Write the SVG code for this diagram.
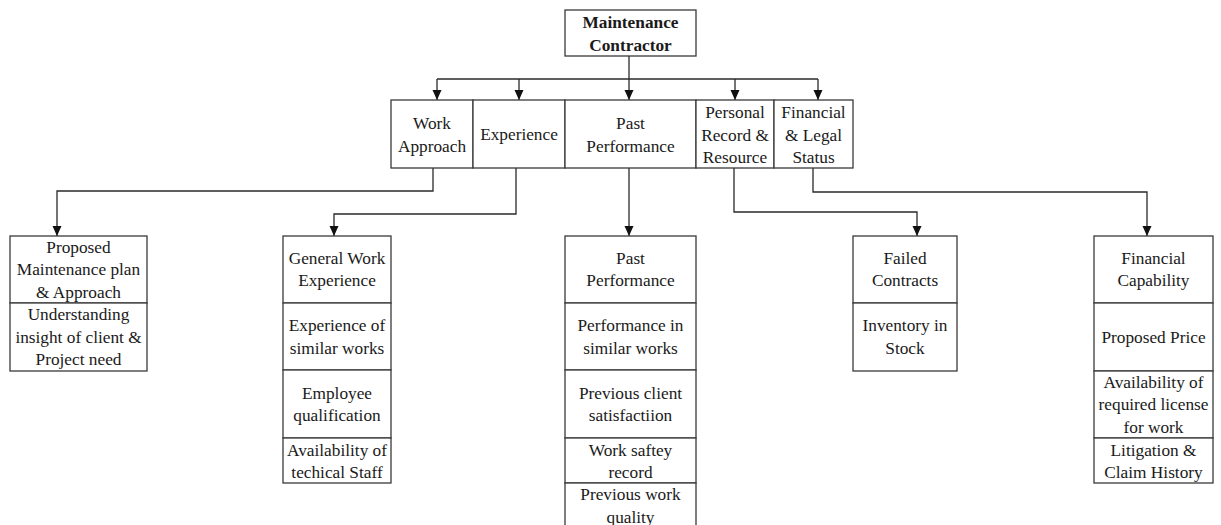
<svg xmlns="http://www.w3.org/2000/svg" width="1221" height="525" viewBox="0 0 1221 525">
<style>
rect{fill:#fff;stroke:#3a3a3a;stroke-width:1.3}
text{font-family:"Liberation Serif","Times New Roman",serif;font-size:17.3px;fill:#1a1a1a;text-anchor:middle}
.b{font-weight:bold}
.c{fill:none;stroke:#2a2a2a;stroke-width:1.3}
</style>
<defs>
<marker id="ah" markerUnits="userSpaceOnUse" markerWidth="10" markerHeight="10" refX="10" refY="4.5" orient="auto"><path d="M0,0 L10,4.5 L0,9 z" fill="#111"/></marker>
</defs>
<rect width="1221" height="525" style="fill:#fff;stroke:none"/>
<g id="connectors">
<path class="c" d="M629,56 V79"/>
<path class="c" d="M437,79 H818"/>
<path class="c" d="M437,79 V100" marker-end="url(#ah)"/>
<path class="c" d="M519,79 V100" marker-end="url(#ah)"/>
<path class="c" d="M629,79 V100" marker-end="url(#ah)"/>
<path class="c" d="M735,79 V100" marker-end="url(#ah)"/>
<path class="c" d="M818,79 V100" marker-end="url(#ah)"/>
<path class="c" d="M433,168 V191 H57 V236" marker-end="url(#ah)"/>
<path class="c" d="M516,168 V214 H334 V236" marker-end="url(#ah)"/>
<path class="c" d="M629,168 V236" marker-end="url(#ah)"/>
<path class="c" d="M734,168 V212 H917 V236" marker-end="url(#ah)"/>
<path class="c" d="M813,168 V192 H1147 V236" marker-end="url(#ah)"/>
</g>
<g id="root">
<rect x="565" y="10" width="131" height="46"/>
<text class="b" x="630.5" y="28">Maintenance</text>
<text class="b" x="630.5" y="51">Contractor</text>
</g>
<g id="work-approach">
<rect x="391" y="100" width="82" height="68"/>
<text x="432" y="129">Work</text>
<text x="432" y="152">Approach</text>
</g>
<g id="experience">
<rect x="473" y="100" width="92" height="68"/>
<text x="519" y="140">Experience</text>
</g>
<g id="past-performance">
<rect x="565" y="100" width="131" height="68"/>
<text x="630.5" y="129">Past</text>
<text x="630.5" y="152">Performance</text>
</g>
<g id="personal-record">
<rect x="696" y="100" width="78" height="68"/>
<text x="735" y="118">Personal</text>
<text x="735" y="141">Record &amp;</text>
<text x="735" y="163">Resource</text>
</g>
<g id="financial-legal">
<rect x="774" y="100" width="79" height="68"/>
<text x="813.5" y="118">Financial</text>
<text x="813.5" y="141">&amp; Legal</text>
<text x="813.5" y="163">Status</text>
</g>
<g id="work-approach-items">
<rect x="10" y="236" width="137" height="67"/>
<rect x="10" y="303" width="137" height="68"/>
<text x="78.5" y="253">Proposed</text>
<text x="78.5" y="275">Maintenance plan</text>
<text x="78.5" y="298">&amp; Approach</text>
<text x="78.5" y="320">Understanding</text>
<text x="78.5" y="343">insight of client &amp;</text>
<text x="78.5" y="365">Project need</text>
</g>
<g id="experience-items">
<rect x="283" y="236" width="108" height="67"/>
<rect x="283" y="303" width="108" height="67"/>
<rect x="283" y="370" width="108" height="68"/>
<rect x="283" y="438" width="108" height="45"/>
<text x="337" y="264">General Work</text>
<text x="337" y="286">Experience</text>
<text x="337" y="331">Experience of</text>
<text x="337" y="354">similar works</text>
<text x="337" y="399">Employee</text>
<text x="337" y="421">qualification</text>
<text x="337" y="456">Availability of</text>
<text x="337" y="478">techical Staff</text>
</g>
<g id="past-performance-items">
<rect x="565" y="236" width="131" height="67"/>
<rect x="565" y="303" width="131" height="67"/>
<rect x="565" y="370" width="131" height="68"/>
<rect x="565" y="438" width="131" height="45"/>
<rect x="565" y="483" width="131" height="50"/>
<text x="630.5" y="264">Past</text>
<text x="630.5" y="286">Performance</text>
<text x="630.5" y="331">Performance in</text>
<text x="630.5" y="354">similar works</text>
<text x="630.5" y="399">Previous client</text>
<text x="630.5" y="421">satisfactiion</text>
<text x="630.5" y="456">Work saftey</text>
<text x="630.5" y="478">record</text>
<text x="630.5" y="500">Previous work</text>
<text x="630.5" y="523">quality</text>
</g>
<g id="personal-items">
<rect x="853" y="236" width="104" height="67"/>
<rect x="853" y="303" width="104" height="68"/>
<text x="905" y="264">Failed</text>
<text x="905" y="286">Contracts</text>
<text x="905" y="331">Inventory in</text>
<text x="905" y="354">Stock</text>
</g>
<g id="financial-items">
<rect x="1094" y="236" width="119" height="67"/>
<rect x="1094" y="303" width="119" height="68"/>
<rect x="1094" y="371" width="119" height="67"/>
<rect x="1094" y="438" width="119" height="45"/>
<text x="1153.5" y="264">Financial</text>
<text x="1153.5" y="286">Capability</text>
<text x="1153.5" y="343">Proposed Price</text>
<text x="1153.5" y="388">Availability of</text>
<text x="1153.5" y="410">required license</text>
<text x="1153.5" y="433">for work</text>
<text x="1153.5" y="456">Litigation &amp;</text>
<text x="1153.5" y="478">Claim History</text>
</g>
</svg>
